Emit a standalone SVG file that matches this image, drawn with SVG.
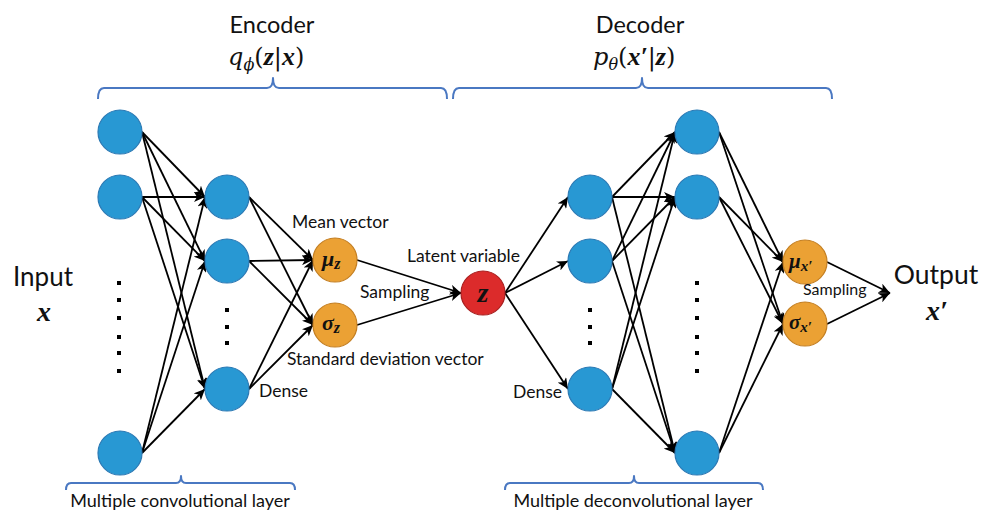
<svg xmlns="http://www.w3.org/2000/svg" width="982" height="511" viewBox="0 0 982 511">
  <style>
    .lbl { font-family: Lato, "Open Sans", sans-serif; fill: #111; }
    .math { font-family: "DejaVu Serif", "Liberation Serif", serif; font-style: italic; fill: #111; }
    .bm { font-family: "Liberation Serif", "DejaVu Serif", serif; font-style: italic; font-weight: bold; fill: #111; }
    .blue { fill: #2898d3; stroke: #2b79b4; stroke-width: 1.2; }
    .orange { fill: #eba134; stroke: #c47f22; stroke-width: 1.2; }
    .red { fill: #dc2b2b; stroke: #a91f1f; stroke-width: 1.2; }
    .brace { fill: none; stroke: #4a78c2; stroke-width: 2; stroke-linejoin: round; }
    .edge { stroke: #000; stroke-width: 1.8; fill: none; marker-end: url(#arr); }
    .dot { fill: #000; }
  </style>
  <defs>
    <marker id="arr" markerUnits="userSpaceOnUse" markerWidth="12" markerHeight="10" refX="11" refY="5" orient="auto">
      <path d="M0,0 L11,5 L0,10 L3,5 Z" fill="#000"/>
    </marker>
  </defs>

  <rect width="982" height="511" fill="#fff"/>

  <!-- headers and braces -->
  <g id="encoder-header">
    <text class="lbl" x="272" y="33" font-size="23.5" text-anchor="middle">Encoder</text>
    <text class="math" x="228" y="65" font-size="24">q<tspan font-size="16" dy="5">ϕ</tspan><tspan dy="-5" font-style="normal">(</tspan><tspan class="bm" font-size="26">z</tspan><tspan font-style="normal">|</tspan><tspan class="bm" font-size="26">x</tspan><tspan font-style="normal">)</tspan></text>
    <path class="brace" d="M98,99 Q98,88 104,88 H267 Q273,88 273,78 Q273,88 279,88 H441 Q447,88 447,99"/>
  </g>
  <g id="decoder-header">
    <text class="lbl" x="640" y="33" font-size="23.5" text-anchor="middle">Decoder</text>
    <text class="math" x="593" y="65" font-size="24">p<tspan font-size="16" dy="5">θ</tspan><tspan dy="-5" font-style="normal">(</tspan><tspan class="bm" font-size="26">x′</tspan><tspan font-style="normal">|</tspan><tspan class="bm" font-size="26">z</tspan><tspan font-style="normal">)</tspan></text>
    <path class="brace" d="M453,99 Q453,88 459,88 H636 Q642,88 642,78 Q642,88 648,88 H826 Q832,88 832,99"/>
  </g>
  <g id="conv-footer">
    <path class="brace" d="M66,490 Q66,483 71,483 H176 Q181,483 181,476 Q181,483 186,483 H290 Q295,483 295,490"/>
    <text class="lbl" x="180" y="507" font-size="18" text-anchor="middle">Multiple convolutional layer</text>
  </g>
  <g id="deconv-footer">
    <path class="brace" d="M505,490 Q505,483 510,483 H629 Q634,483 634,476 Q634,483 639,483 H758 Q763,483 763,490"/>
    <text class="lbl" x="633" y="507" font-size="18" text-anchor="middle">Multiple deconvolutional layer</text>
  </g>

  <!-- connectors -->
  <g id="connectors">
    <!-- input layer to first dense layer -->
    <line class="edge" x1="142" y1="132" x2="205" y2="197"/>
    <line class="edge" x1="142" y1="132" x2="205" y2="261"/>
    <line class="edge" x1="142" y1="132" x2="205" y2="389"/>
    <line class="edge" x1="142" y1="197" x2="205" y2="197"/>
    <line class="edge" x1="142" y1="197" x2="205" y2="261"/>
    <line class="edge" x1="142" y1="197" x2="205" y2="389"/>
    <line class="edge" x1="142" y1="453" x2="205" y2="197"/>
    <line class="edge" x1="142" y1="453" x2="205" y2="261"/>
    <line class="edge" x1="142" y1="453" x2="205" y2="389"/>
    <!-- dense layer to mean / std -->
    <line class="edge" x1="249" y1="197" x2="313" y2="260"/>
    <line class="edge" x1="249" y1="197" x2="313" y2="325"/>
    <line class="edge" x1="249" y1="261" x2="313" y2="260"/>
    <line class="edge" x1="249" y1="261" x2="313" y2="325"/>
    <line class="edge" x1="249" y1="389" x2="313" y2="260"/>
    <line class="edge" x1="249" y1="389" x2="313" y2="325"/>
    <!-- sampling into z -->
    <line class="edge" x1="357" y1="260" x2="461" y2="293"/>
    <line class="edge" x1="357" y1="325" x2="461" y2="293"/>
    <!-- z to decoder dense layer -->
    <line class="edge" x1="505" y1="293" x2="568" y2="197"/>
    <line class="edge" x1="505" y1="293" x2="568" y2="261"/>
    <line class="edge" x1="505" y1="293" x2="568" y2="389"/>
    <!-- decoder dense layer to output layer -->
    <line class="edge" x1="612" y1="197" x2="675" y2="132"/>
    <line class="edge" x1="612" y1="197" x2="675" y2="197"/>
    <line class="edge" x1="612" y1="197" x2="675" y2="453"/>
    <line class="edge" x1="612" y1="261" x2="675" y2="132"/>
    <line class="edge" x1="612" y1="261" x2="675" y2="197"/>
    <line class="edge" x1="612" y1="261" x2="675" y2="453"/>
    <line class="edge" x1="612" y1="389" x2="675" y2="132"/>
    <line class="edge" x1="612" y1="389" x2="675" y2="197"/>
    <line class="edge" x1="612" y1="389" x2="675" y2="453"/>
    <!-- output layer to mean / std -->
    <line class="edge" x1="719" y1="132" x2="783" y2="262"/>
    <line class="edge" x1="719" y1="132" x2="783" y2="324"/>
    <line class="edge" x1="719" y1="197" x2="783" y2="262"/>
    <line class="edge" x1="719" y1="197" x2="783" y2="324"/>
    <line class="edge" x1="719" y1="453" x2="783" y2="262"/>
    <line class="edge" x1="719" y1="453" x2="783" y2="324"/>
    <!-- sampling to output -->
    <line class="edge" x1="827" y1="262" x2="890" y2="293"/>
    <line class="edge" x1="827" y1="324" x2="890" y2="293"/>
  </g>

  <!-- encoder input layer -->
  <g id="in1"><circle class="blue" cx="120" cy="132" r="22"/></g>
  <g id="in2"><circle class="blue" cx="120" cy="197" r="22"/></g>
  <g id="in3"><circle class="blue" cx="120" cy="453" r="22"/></g>
  <g id="in-dots">
    <rect class="dot" x="117" y="281" width="4" height="4"/>
    <rect class="dot" x="117" y="298" width="4" height="4"/>
    <rect class="dot" x="117" y="316" width="4" height="4"/>
    <rect class="dot" x="117" y="335" width="4" height="4"/>
    <rect class="dot" x="117" y="351" width="4" height="4"/>
    <rect class="dot" x="117" y="369" width="4" height="4"/>
  </g>

  <!-- encoder dense layer -->
  <g id="enc1"><circle class="blue" cx="227" cy="197" r="22"/></g>
  <g id="enc2"><circle class="blue" cx="227" cy="261" r="22"/></g>
  <g id="enc3"><circle class="blue" cx="227" cy="389" r="22"/></g>
  <g id="enc-dots">
    <rect class="dot" x="225" y="308" width="4" height="4"/>
    <rect class="dot" x="225" y="325" width="4" height="4"/>
    <rect class="dot" x="225" y="341" width="4" height="4"/>
  </g>

  <!-- mean and standard deviation of z -->
  <g id="mu-z">
    <circle class="orange" cx="335" cy="260" r="22"/>
    <text class="bm" x="322" y="266" font-size="22">μ<tspan font-size="16" dy="3">z</tspan></text>
  </g>
  <g id="sigma-z">
    <circle class="orange" cx="335" cy="325" r="22"/>
    <text class="bm" x="322" y="330" font-size="22">σ<tspan font-size="16" dy="3">z</tspan></text>
  </g>

  <!-- latent variable -->
  <g id="z">
    <circle class="red" cx="483" cy="293" r="22"/>
    <text class="bm" x="483" y="302" font-size="28" text-anchor="middle">z</text>
  </g>

  <!-- decoder dense layer -->
  <g id="dec1"><circle class="blue" cx="590" cy="197" r="22"/></g>
  <g id="dec2"><circle class="blue" cx="590" cy="261" r="22"/></g>
  <g id="dec3"><circle class="blue" cx="590" cy="389" r="22"/></g>
  <g id="dec-dots">
    <rect class="dot" x="588" y="308" width="4" height="4"/>
    <rect class="dot" x="588" y="325" width="4" height="4"/>
    <rect class="dot" x="588" y="341" width="4" height="4"/>
  </g>

  <!-- decoder output layer -->
  <g id="out1"><circle class="blue" cx="697" cy="132" r="22"/></g>
  <g id="out2"><circle class="blue" cx="697" cy="197" r="22"/></g>
  <g id="out3"><circle class="blue" cx="697" cy="453" r="22"/></g>
  <g id="out-dots">
    <rect class="dot" x="695" y="281" width="4" height="4"/>
    <rect class="dot" x="695" y="298" width="4" height="4"/>
    <rect class="dot" x="695" y="316" width="4" height="4"/>
    <rect class="dot" x="695" y="335" width="4" height="4"/>
    <rect class="dot" x="695" y="351" width="4" height="4"/>
    <rect class="dot" x="695" y="369" width="4" height="4"/>
  </g>

  <!-- mean and standard deviation of x' -->
  <g id="mu-x">
    <circle class="orange" cx="805" cy="262" r="22"/>
    <text class="bm" x="789" y="268" font-size="21">μ<tspan font-size="15" dy="3">x′</tspan></text>
  </g>
  <g id="sigma-x">
    <circle class="orange" cx="805" cy="324" r="22"/>
    <text class="bm" x="789" y="329" font-size="21">σ<tspan font-size="15" dy="3">x′</tspan></text>
  </g>

  <!-- labels -->
  <g id="input-label">
    <text class="lbl" x="43" y="286" font-size="26" text-anchor="middle">Input</text>
    <text class="bm" x="44" y="321" font-size="28" text-anchor="middle">x</text>
  </g>
  <g id="output-label">
    <text class="lbl" x="936" y="284" font-size="26.5" text-anchor="middle">Output</text>
    <text class="bm" x="937" y="320" font-size="28" text-anchor="middle">x′</text>
  </g>
  <text class="lbl" x="292" y="228" font-size="17.5">Mean vector</text>
  <text class="lbl" x="407" y="262" font-size="17.5">Latent variable</text>
  <text class="lbl" x="360" y="298" font-size="17.5">Sampling</text>
  <text class="lbl" x="287" y="365" font-size="17.5">Standard deviation vector</text>
  <text class="lbl" x="259" y="397" font-size="17.5">Dense</text>
  <text class="lbl" x="513" y="398" font-size="17.5">Dense</text>
  <text class="lbl" x="803" y="295" font-size="16">Sampling</text>
</svg>
